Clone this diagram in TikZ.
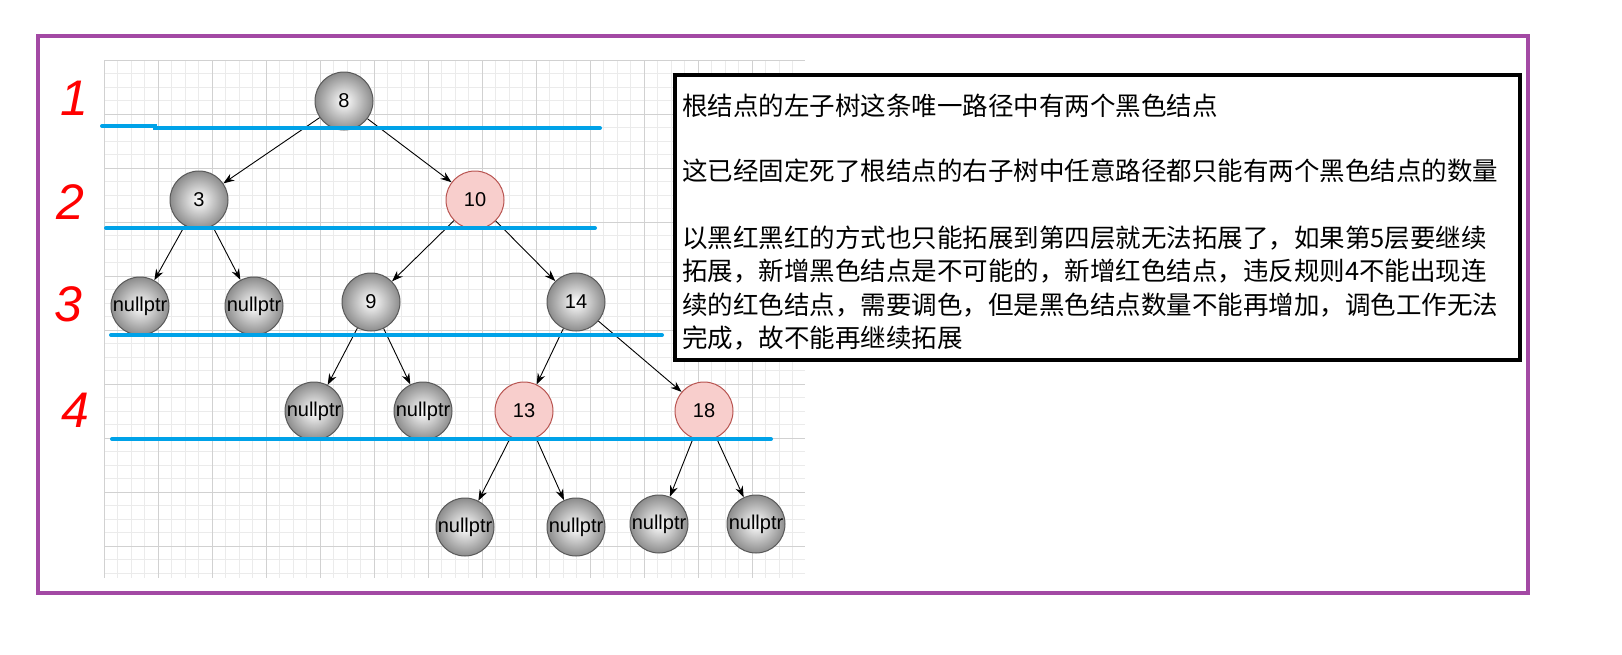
\documentclass[tikz,border=0pt]{standalone}
\usepackage{fontspec}
\setmainfont{Liberation Sans}
\newfontfamily\cjk{Noto Sans CJK SC}
\usetikzlibrary{arrows.meta}
\definecolor{bl}{HTML}{00A2E8}
\definecolor{pur}{HTML}{A349A4}
\definecolor{rf}{HTML}{F8CECC}
\definecolor{rb}{HTML}{B85450}
\begin{document}
\begin{tikzpicture}[x=1pt,y=-1pt,
 gnode/.style={circle,minimum size=58pt,inner sep=0pt,draw=black!65,line width=1pt,inner color=white,outer color=black!45,font=\fontsize{20}{20}\selectfont},
 rnode/.style={circle,minimum size=58pt,inner sep=0pt,draw=rb,line width=1pt,fill=rf,font=\fontsize{20}{20}\selectfont},
 edge/.style={-{Stealth[length=11pt,width=8pt]},line width=0.9pt},
 blue/.style={bl,line width=4pt,line cap=round},
 hand/.style={red,font=\fontsize{50}{50}\selectfont\itshape},
 txt/.style={anchor=west,inner sep=0pt,font=\cjk\fontsize{25.5}{25.5}\selectfont}]
\fill[white] (0,0) rectangle (1622,654);
\draw[pur,line width=4pt] (38,36) rectangle (1528,593);
% grid
\begin{scope}
\clip (104,60) rectangle (805,578);
\foreach \i in {0,...,52} {
 \draw[black!8,line width=0.6pt] (104+13.5*\i,60) -- (104+13.5*\i,578);
 \draw[black!8,line width=0.6pt] (104,60+13.5*\i) -- (805,60+13.5*\i);}
\foreach \i in {0,...,13} {
 \draw[black!18,line width=0.8pt] (104+54*\i,60) -- (104+54*\i,578);
 \draw[black!18,line width=0.8pt] (104,60+54*\i) -- (805,60+54*\i);}
\end{scope}
% nodes
\node[gnode] (n8) at (344,101) {8};
\node[gnode] (n3) at (199,200) {3};
\node[rnode] (n10) at (475,200) {10};
\node[gnode] (a1) at (140,306) {nullptr};
\node[gnode] (a2) at (254,306) {nullptr};
\node[gnode] (n9) at (371,302) {9};
\node[gnode] (n14) at (576,302) {14};
\node[gnode] (b1) at (314,411) {nullptr};
\node[gnode] (b2) at (423,411) {nullptr};
\node[rnode] (n13) at (524,411) {13};
\node[rnode] (n18) at (704,411) {18};
\node[gnode] (c1) at (465,527) {nullptr};
\node[gnode] (c2) at (576,527) {nullptr};
\node[gnode] (c3) at (659,524) {nullptr};
\node[gnode] (c4) at (756,524) {nullptr};
% edges
\foreach \p/\c in {n8/n3,n8/n10,n3/a1,n3/a2,n10/n9,n10/n14,n9/b1,n9/b2,n14/n13,n14/n18,n13/c1,n13/c2,n18/c3,n18/c4}
 \draw[edge] (\p) -- (\c);
% blue lines
\coordinate (l1a) at (102,126); \coordinate (l1b) at (155,126);
\coordinate (l1c) at (155,128); \coordinate (l1d) at (600,128);
\draw[blue] (l1a) -- (l1b) -- (l1c) -- (l1d);
\coordinate (l2a) at (106,228); \coordinate (l2b) at (595,228);
\draw[blue] (l2a) -- (l2b);
\coordinate (l3a) at (111,335); \coordinate (l3b) at (662,335);
\draw[blue] (l3a) -- (l3b);
\coordinate (l4a) at (112,439); \coordinate (l4b) at (771,439);
\draw[blue] (l4a) -- (l4b);
% hand numbers
\node[hand] (h1) at (74,98) {1};
\node[hand] (h2) at (70,202) {2};
\node[hand] (h3) at (68,304) {3};
\node[hand] (h4) at (75,410) {4};
% text box
\draw[black,line width=4pt,fill=white] (675,75) rectangle (1520,360);
\node[txt] (t1) at (682,106) {根结点的左子树这条唯一路径中有两个黑色结点};
\node[txt] (t2) at (682,171) {这已经固定死了根结点的右子树中任意路径都只能有两个黑色结点的数量};
\node[txt] (t3) at (682,238) {以黑红黑红的方式也只能拓展到第四层就无法拓展了，如果第5层要继续};
\node[txt] (t4) at (682,271) {拓展，新增黑色结点是不可能的，新增红色结点，违反规则4不能出现连};
\node[txt] (t5) at (682,305) {续的红色结点，需要调色，但是黑色结点数量不能再增加，调色工作无法};
\node[txt] (t6) at (682,338) {完成，故不能再继续拓展};
\pgfresetboundingbox
\useasboundingbox (0,0) rectangle (1622,654);
\end{tikzpicture}
\end{document}
